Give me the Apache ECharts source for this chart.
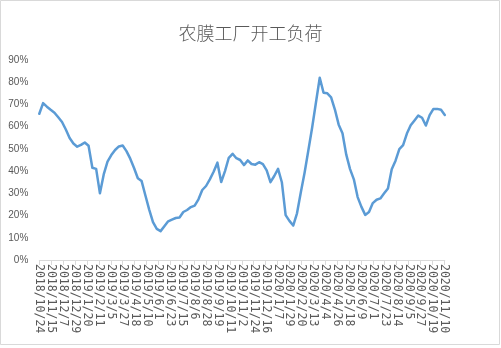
<!DOCTYPE html>
<html><head><meta charset="utf-8">
<script src="https://cdn.jsdelivr.net/npm/echarts@6/dist/echarts.min.js"></script>
<style>html,body{margin:0;padding:0;background:#fff}#c{width:501px;height:348px}</style>
</head><body><div id="c"></div>
<script>
const titleText = '农膜工厂开工负荷';
const startDate = [2018, 10, 24];   // first weekly observation
const stepDays = 7;                 // weekly data
const labelIntervalDays = 22;       // axis label spacing (days)
const values = [
  65.8,70.6,69,67.6,66.3,64.2,62.1,58.7,54.9,52.4,
  51,51.8,52.9,51.4,41.5,41,30,38.5,44.3,47.2,
  49.5,51.1,51.5,49,45.6,41.4,36.8,35.5,29,22.7,
  17,14,13,15.2,17.4,18.2,18.9,19.1,21.6,22.5,
  23.8,24.5,27.3,31.5,33.3,36.3,39.7,43.8,35.1,40,
  46,47.8,45.8,45,42.7,44.8,43.2,42.9,44,43.1,
  40.3,35,37.8,41,35,20.2,17.6,15.5,21,30.4,
  39.3,49.4,59.6,70.9,82,75.3,75,73.2,67.7,60.9,
  57,47.4,40.9,36.3,28.3,23.9,20.3,21.6,25.6,27.1,
  27.7,30,32.2,40.8,44.7,49.9,51.7,56.9,60.6,62.8,
  65,64,60.5,65.2,68,68,67.6,65.3
];
const yMin = 0, yMax = 90, yStep = 10;

const t0 = Date.UTC(startDate[0], startDate[1] - 1, startDate[2]);
function dayLabel(d) {
  const t = new Date(t0 + Math.round(d) * 86400000);
  return t.getUTCFullYear() + '/' + (t.getUTCMonth() + 1) + '/' + t.getUTCDate();
}
const seriesData = values.map((v, i) => [i * stepDays, v]);
const lastDay = (values.length - 1) * stepDays;

const chart = echarts.init(document.getElementById('c'));
chart.setOption({
  animation: false,
  backgroundColor: '#ffffff',
  title: {
    text: titleText, left: 'center', top: 18,
    textStyle: { fontFamily: 'Noto Sans CJK SC', fontSize: 18, fontWeight: 300, color: '#595959', lineHeight: 20 }
  },
  graphic: [{
    type: 'rect', silent: true,
    shape: { x: 0.5, y: 0.5, width: 499, height: 344 },
    style: { fill: 'none', stroke: '#d9d9d9', lineWidth: 1 }
  }],
  grid: { left: 39.3, right: 501 - 444.8, top: 60, bottom: 88, containLabel: false },
  xAxis: {
    type: 'value', min: 0, max: lastDay, interval: labelIntervalDays,
    axisLine: { show: true, lineStyle: { color: '#d9d9d9', width: 1 } },
    axisTick: { show: true, length: 5, lineStyle: { color: '#d9d9d9' } },
    splitLine: { show: false },
    axisLabel: {
      rotate: -90, margin: 4, showMaxLabel: false,
      fontFamily: 'DejaVu Sans Mono', fontSize: 11.5, color: '#595959',
      formatter: dayLabel
    }
  },
  yAxis: {
    type: 'value', min: yMin, max: yMax, interval: yStep,
    axisLine: { show: false }, axisTick: { show: false }, splitLine: { show: false },
    axisLabel: { formatter: '{value}%', fontFamily: 'Liberation Sans', fontSize: 10, color: '#595959', margin: 11 }
  },
  series: [{
    type: 'line', data: seriesData, showSymbol: false, smooth: false,
    lineStyle: { color: '#5b9bd5', width: 2.5, join: 'round', cap: 'round' },
    itemStyle: { color: '#5b9bd5' }
  }]
});
</script></body></html>
